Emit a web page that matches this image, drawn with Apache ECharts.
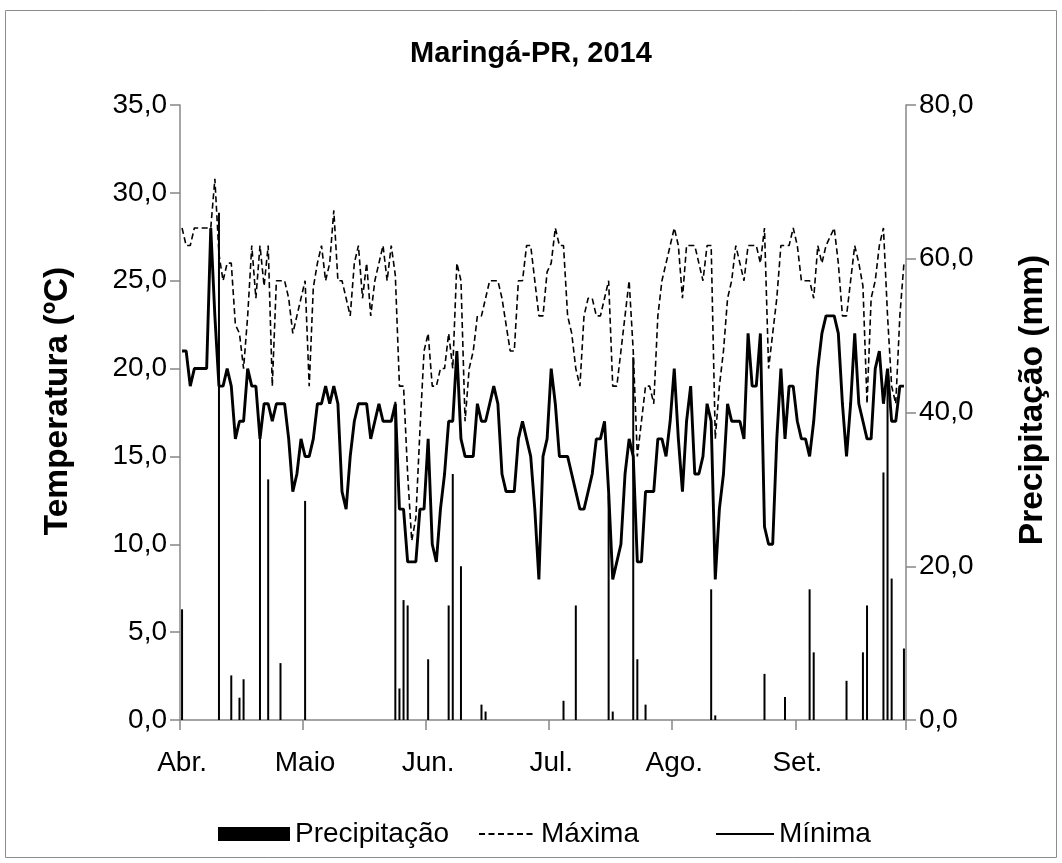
<!DOCTYPE html>
<html>
<head>
<meta charset="utf-8">
<script src="https://cdn.jsdelivr.net/npm/echarts@6/dist/echarts.min.js"></script>
<style>
html,body{margin:0;padding:0;background:#fff;}
#chart{width:1062px;height:863px;}
</style>
</head>
<body>
<div id="chart"></div>
<script>
// Day index (1..177) from early April to late September 2014
const days = [];
for (let i = 1; i <= 177; i++) days.push(String(i));

// Month labels, shown every 30 categories
const monthLabels = ['Abr.', 'Maio', 'Jun.', 'Jul.', 'Ago.', 'Set.'];
const labelStep = 30;

// Minimum temperature (ºC)
const minima = [
21,21,19,20,20,20,20,28,23,19, 19,20,19,16,17,17,20,19,19,16,
18,18,17,18,18,18,16,13,14,16, 15,15,16,18,18,19,18,19,18,13,
12,15,17,18,18,18,16,17,18,17, 17,17,18,12,12,9,9,9,12,12,
16,10,9,12,14,17,17,21,16,15, 15,15,18,17,17,18,19,18,14,13,
13,13,16,17,16,15,12,8,15,16, 20,18,15,15,15,14,13,12,12,13,
14,16,16,17,13,8,9,10,14,16, 15,9,9,13,13,13,16,16,15,17,
20,16,13,17,19,14,14,15,18,17, 8,12,14,18,17,17,17,16,22,19,
19,22,11,10,10,16,20,16,19,19, 17,16,16,15,17,20,22,23,23,23,
22,18,15,18,22,18,17,16,16,20, 21,18,20,17,17,19,19
];

// Maximum temperature (ºC)
const maxima = [
28,27,27,28,28,28,28,28,30.8,26.5, 25,26,26,22.5,22,20,23,27,24,27,
24.7,27,19,25,25,25,24,22,23,24, 25,19,24.6,26,27,25,26,29,25,25,
24,23,26,27,24,26,23,25,26,27, 25,27,25.3,19,19,14,10.2,11.5,16.5,21,
22,19,19,20,20,22,20,26,25,17, 20,21,23,23,24,25,25,25,24,22.5,
21,21,25,25,27,27,25,23,23,25.5, 26,28,27,27,23,22,20,19,23,24,
24,23,23,24,25,19,19,21,23,25, 21,15,17,19,19,18,23,25,26,27,
28,27,24,27,27,27,26,25,27,27, 16,19,21,24,25,27,26,25,27,27,
27,26,28,20,22,24,27,27,27,28, 27,25,25,25,24,27,26,27,27.5,28,
26,23,23,25,27,26,24.7,18,24,25, 27,28,23,19,18,23,26
];

// Daily rainfall (mm): [day index, value]
const rainDays = [0,9,12,14,15,19,21,24,30,52,53,54,55,60,65,66,68,73,74,93,96,104,105,110,111,113,129,130,142,147,153,154,162,166,167,171,172,173,176];
const rainVals = [14.4,66,5.8,2.9,5.3,37.1,31.3,7.4,28.5,41.4,4.1,15.6,14.9,7.9,14.9,32,20,2,1.1,2.5,14.9,29.2,1.1,47.2,7.9,2,17,0.6,6,3,17,8.8,5.1,8.8,14.9,32.2,45.5,18.4,9.3];

const precip = days.map(() => 0);
rainDays.forEach((d, k) => { precip[d] = rainVals[k]; });

const FONT = '"Liberation Sans", Arial, sans-serif';
const AXIS_GREY = '#878787';
const fmt = v => v.toFixed(1).replace('.', ',');
const legendText = {fontFamily: FONT, fontSize: 28, color: '#000'};

const chart = echarts.init(document.getElementById('chart'), null, {renderer: 'canvas'});
chart.setOption({
  backgroundColor: '#ffffff',
  animation: false,
  textStyle: {fontFamily: FONT},
  graphic: [
    {
      type: 'rect',
      shape: {x: 5.5, y: 10.5, width: 1051, height: 847},
      style: {fill: 'none', stroke: '#8c8c8c', lineWidth: 1}
    },
    {
      type: 'text', x: 58, y: 401, rotation: Math.PI / 2,
      style: {text: 'Temperatura (ºC)', font: 'bold 33.5px ' + FONT, fill: '#000',
               textAlign: 'center', textVerticalAlign: 'middle'}
    },
    {
      type: 'text', x: 1033, y: 400, rotation: Math.PI / 2,
      style: {text: 'Precipitação (mm)', font: 'bold 33.5px ' + FONT, fill: '#000',
               textAlign: 'center', textVerticalAlign: 'middle'}
    }
  ],
  title: {
    text: 'Maringá-PR, 2014',
    left: 'center',
    top: 34,
    textStyle: {fontFamily: FONT, fontSize: 29, fontWeight: 'bold', color: '#000'}
  },
  legend: [
    {data: ['Precipitação'], left: 213, top: 815, icon: 'rect', itemWidth: 72, itemHeight: 14,
     textStyle: legendText},
    {data: ['Máxima'], left: 473, top: 815, itemWidth: 57, itemHeight: 14,
     itemStyle: {opacity: 0}, textStyle: legendText},
    {data: ['Mínima'], left: 710, top: 815, itemWidth: 58, itemHeight: 14,
     itemStyle: {opacity: 0}, textStyle: legendText}
  ],
  grid: {left: 180, right: 156, top: 105, bottom: 143, containLabel: false},
  xAxis: {
    type: 'category',
    data: days,
    boundaryGap: true,
    axisLine: {lineStyle: {color: AXIS_GREY, width: 1.5}},
    axisTick: {show: true, length: 10, interval: i => i % labelStep === 0, lineStyle: {color: AXIS_GREY, width: 1.5}},
    axisLabel: {
      interval: i => i % labelStep === 0,
      margin: 29,
      fontFamily: FONT, fontSize: 28, color: '#000',
      formatter: (v, i) => (i % labelStep === 0 ? monthLabels[i / labelStep] : '')
    },
    splitLine: {show: false}
  },
  yAxis: [
    {
      type: 'value', min: 0, max: 35, interval: 5, position: 'left',
      axisLine: {show: true, lineStyle: {color: AXIS_GREY, width: 1.5}},
      axisTick: {show: true, length: 10, lineStyle: {color: AXIS_GREY, width: 1.5}},
      axisLabel: {margin: 13, fontFamily: FONT, fontSize: 28, color: '#000', formatter: fmt},
      splitLine: {show: false}
    },
    {
      type: 'value', min: 0, max: 80, interval: 20, position: 'right',
      axisLine: {show: true, lineStyle: {color: AXIS_GREY, width: 1.5}},
      axisTick: {show: true, length: 10, lineStyle: {color: AXIS_GREY, width: 1.5}},
      axisLabel: {margin: 13, fontFamily: FONT, fontSize: 28, color: '#000', formatter: fmt},
      splitLine: {show: false}
    }
  ],
  series: [
    {
      name: 'Precipitação', type: 'bar', yAxisIndex: 1, data: precip,
      barWidth: 2, itemStyle: {color: '#000'}, z: 2
    },
    {
      name: 'Máxima', type: 'line', yAxisIndex: 0, data: maxima,
      symbol: 'none', showSymbol: false,
      lineStyle: {color: '#000', width: 1.6, type: [6, 3.5]},
      itemStyle: {color: '#000'}, z: 3
    },
    {
      name: 'Mínima', type: 'line', yAxisIndex: 0, data: minima,
      symbol: 'none', showSymbol: false,
      lineStyle: {color: '#000', width: 2.9, type: 'solid'},
      itemStyle: {color: '#000'}, z: 4
    }
  ]
});
</script>
</body>
</html>
